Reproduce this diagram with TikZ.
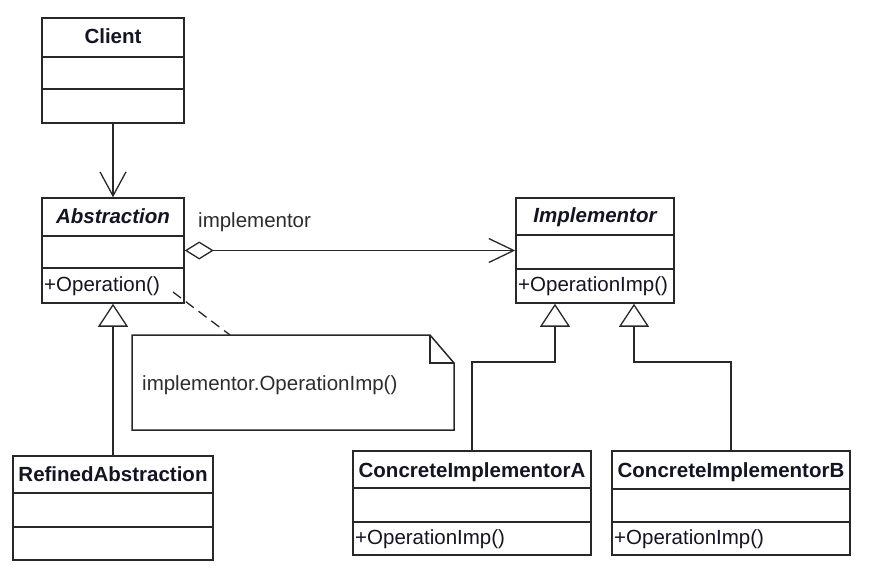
\documentclass[tikz,border=0pt]{standalone}
\usepackage{fontspec}
\setmainfont{Liberation Sans}
\usetikzlibrary{arrows.meta}
\definecolor{linecol}{RGB}{40,40,40}
\definecolor{textcol}{RGB}{20,20,35}
\definecolor{labelcol}{RGB}{45,45,45}
\begin{document}
\begin{tikzpicture}[x=1pt,y=-1pt,
  umlbox/.style={draw=linecol, line width=1.5pt, rectangle, inner sep=0pt, fill=white},
  divider/.style={draw=linecol, line width=1.5pt},
  title/.style={anchor=base, font=\fontsize{20.5}{24}\selectfont\bfseries, text=textcol, inner sep=0pt},
  ititle/.style={title, font=\fontsize{20.5}{24}\selectfont\bfseries\itshape},
  member/.style={anchor=base west, font=\fontsize{20.5}{24}\selectfont, text=textcol, inner sep=0pt},
  plain/.style={anchor=base west, font=\fontsize{20.5}{24}\selectfont, text=labelcol, inner sep=0pt},
  conn/.style={draw=linecol, line width=1.3pt},
  openarrow/.style={-{Straight Barb[length=24pt,width=26pt,line width=1.3pt]}},
  inherit/.style={-{Triangle[open,length=23pt,width=30pt,line width=1.3pt,fill=white]}},
  aggr/.style={{Diamond[open,length=29pt,width=18pt,line width=1.3pt,fill=white]}-{Straight Barb[length=25pt,width=24pt,line width=1.3pt]}},
  notedash/.style={draw=linecol, line width=1.3pt, dash pattern=on 10pt off 6pt}
]
\useasboundingbox[fill=white] (0,0) rectangle (873,575);

% Client
\node[umlbox, minimum width=142pt, minimum height=105pt] (client) at (113,70.5) {};
\draw[divider] (client.west |- 0,57) -- (client.east |- 0,57);
\draw[divider] (client.west |- 0,89) -- (client.east |- 0,89);
\node[title] (clientT) at (113,44) {Client};

% Abstraction
\node[umlbox, minimum width=142pt, minimum height=105pt] (abs) at (113,250.5) {};
\draw[divider] (abs.west |- 0,236) -- (abs.east |- 0,236);
\draw[divider] (abs.west |- 0,268) -- (abs.east |- 0,268);
\node[ititle] (absT) at (113,223) {Abstraction};
\node[member] (absOp) at (44,291) {+Operation()};

% Implementor
\node[umlbox, minimum width=158pt, minimum height=105pt] (impl) at (595,250.5) {};
\draw[divider] (impl.west |- 0,235) -- (impl.east |- 0,235);
\draw[divider] (impl.west |- 0,269) -- (impl.east |- 0,269);
\node[ititle] (implT) at (595,222) {Implementor};
\node[member] (implOp) at (518,291) {+OperationImp()};

% RefinedAbstraction
\node[umlbox, minimum width=200pt, minimum height=104pt] (refined) at (113,508) {};
\draw[divider] (refined.west |- 0,493) -- (refined.east |- 0,493);
\draw[divider] (refined.west |- 0,527) -- (refined.east |- 0,527);
\node[title] (refinedT) at (113,481) {RefinedAbstraction};

% ConcreteImplementorA
\node[umlbox, minimum width=238pt, minimum height=104pt] (cA) at (472,503) {};
\draw[divider] (cA.west |- 0,488) -- (cA.east |- 0,488);
\draw[divider] (cA.west |- 0,522) -- (cA.east |- 0,522);
\node[title] (cAT) at (472,477) {ConcreteImplementorA};
\node[member] (cAOp) at (355,544) {+OperationImp()};

% ConcreteImplementorB
\node[umlbox, minimum width=238pt, minimum height=104pt] (cB) at (731,503) {};
\draw[divider] (cB.west |- 0,489) -- (cB.east |- 0,489);
\draw[divider] (cB.west |- 0,522) -- (cB.east |- 0,522);
\node[title] (cBT) at (731,477) {ConcreteImplementorB};
\node[member] (cBOp) at (614,544) {+OperationImp()};

% Note
\coordinate (noteNW) at (132,335);
\coordinate (noteFold) at (430,335);
\coordinate (noteFoldB) at (454,363);
\coordinate (noteSE) at (454,430);
\draw[draw=linecol, line width=1.5pt, fill=white]
  (noteNW) -- (noteFold) -- (noteFoldB) -- (noteSE) -- (noteNW |- noteSE) -- cycle;
\draw[draw=linecol, line width=1.3pt] (noteFold) -- (noteFold |- noteFoldB) -- (noteFoldB);
\node[plain] (noteT) at (142,390) {implementor.OperationImp()};

% Connectors
\draw[conn, openarrow] (client.south) -- (abs.north);
\draw[conn, aggr] (abs.east) -- (impl.west);
\node[plain] (implLabel) at (198,227) {implementor};
\draw[conn, inherit] (refined.north) -- (abs.south);
\draw[conn, inherit] (cA.north) |- (555,362) -- (impl.south -| 555,0);
\draw[conn, inherit] (cB.north) |- (634,362) -- (impl.south -| 634,0);
\coordinate (opEnd) at (173,292);
\coordinate (noteTop) at (230,335);
\draw[notedash] (opEnd) -- (noteTop);
\end{tikzpicture}
\end{document}
